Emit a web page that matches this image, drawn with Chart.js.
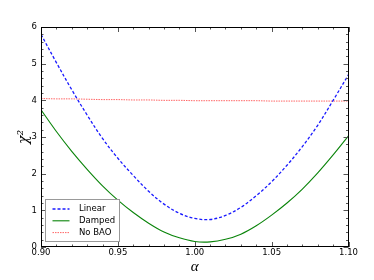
<!DOCTYPE html>
<html>
<head>
<meta charset="utf-8">
<script src="https://cdn.jsdelivr.net/npm/chart.js@4.4.1/dist/chart.umd.min.js"></script>
<style>
  html, body { margin: 0; padding: 0; background: #fff; }
</style>
</head>
<body>
<canvas id="chiChart" width="374" height="280"></canvas>
<script>
// Values
const alphaVals = [0.90, 0.91, 0.92, 0.93, 0.94, 0.95, 0.96, 0.97, 0.98, 0.99, 1.00,
                   1.01, 1.02, 1.03, 1.04, 1.05, 1.06, 1.07, 1.08, 1.09, 1.10];
const linearChi = [5.80, 5.03, 4.29, 3.60, 2.96, 2.42, 1.95, 1.52, 1.17, 0.92, 0.78,
                   0.75, 0.86, 1.08, 1.40, 1.78, 2.23, 2.74, 3.32, 4.00, 4.70];
const dampedChi = [3.74, 3.15, 2.61, 2.12, 1.67, 1.28, 0.94, 0.65, 0.41, 0.25, 0.15,
                   0.14, 0.21, 0.35, 0.58, 0.87, 1.20, 1.58, 2.02, 2.51, 3.03];
const noBaoChi  = [4.05, 4.04, 4.04, 4.03, 4.02, 4.02, 4.01, 4.01, 4.00, 4.00, 3.99,
                   3.99, 3.99, 3.99, 3.99, 3.98, 3.98, 3.98, 3.98, 3.98, 3.98];

const xMin = 0.90, xMax = 1.10, xMajor = 0.05, xMinor = 0.01;
const yMin = 0, yMax = 6, yMajor = 1, yMinor = 0.2;

function toPoints(ys) {
    return alphaVals.map((a, i) => ({ x: a, y: ys[i] }));
}

// Inward ticks on all four sides, matplotlib style
const frameTicks = {
    id: 'frameTicks',
    afterDraw(chart) {
        const { ctx, chartArea: a, scales: { x, y } } = chart;
        ctx.save();
        ctx.lineWidth = 1;
        ctx.strokeStyle = '#555';
        ctx.beginPath();
        const nx = Math.round((xMax - xMin) / xMinor);
        for (let i = 0; i <= nx; i++) {
            const px = Math.round(x.getPixelForValue(xMin + i * xMinor)) + 0.5;
            const len = (i % Math.round(xMajor / xMinor) === 0) ? 5 : 2.5;
            ctx.moveTo(px, a.bottom); ctx.lineTo(px, a.bottom - len);
            ctx.moveTo(px, a.top); ctx.lineTo(px, a.top + len);
        }
        const ny = Math.round((yMax - yMin) / yMinor);
        for (let i = 0; i <= ny; i++) {
            const py = Math.round(y.getPixelForValue(yMin + i * yMinor)) + 0.5;
            const len = (i % Math.round(yMajor / yMinor) === 0) ? 5 : 2.5;
            ctx.moveTo(a.left, py); ctx.lineTo(a.left + len, py);
            ctx.moveTo(a.right, py); ctx.lineTo(a.right - len, py);
        }
        ctx.stroke();

        // frame
        ctx.strokeStyle = '#000';
        ctx.strokeRect(Math.round(a.left) + 0.5, Math.round(a.top) + 0.5,
                       Math.round(a.right - a.left) - 1, Math.round(a.bottom - a.top) - 1);
        ctx.restore();
    }
};

// Legend box inside the lower-left corner of the plot
const innerLegend = {
    id: 'innerLegend',
    afterDraw(chart) {
        const { ctx, chartArea: a } = chart;
        const bx = a.left + 4.5, by = a.bottom - 47.5, bw = 74, bh = 42;
        ctx.save();
        ctx.fillStyle = '#fff';
        ctx.fillRect(bx, by, bw, bh);
        ctx.strokeStyle = '#999';
        ctx.lineWidth = 1;
        ctx.strokeRect(bx, by, bw, bh);
        ctx.font = '8.5px "DejaVu Sans"';
        ctx.textBaseline = 'middle';
        ctx.fillStyle = '#000';
        chart.data.datasets.forEach((ds, i) => {
            const ry = by + 9.5 + i * 11.8;
            ctx.strokeStyle = ds.borderColor;
            ctx.lineWidth = ds.borderWidth;
            ctx.setLineDash(ds.borderDash || []);
            ctx.beginPath();
            ctx.moveTo(bx + 7, ry); ctx.lineTo(bx + 24, ry);
            ctx.stroke();
            ctx.setLineDash([]);
            ctx.fillText(ds.label, bx + 33.5, ry);
        });
        ctx.restore();
    }
};

const ctx = document.getElementById('chiChart').getContext('2d');
const chiChart = new Chart(ctx, {
    type: 'line',
    data: {
        datasets: [
            {
                label: 'Linear',
                data: toPoints(linearChi),
                borderColor: '#1a1aff',
                borderWidth: 1.3,
                borderDash: [3, 2],
                pointRadius: 0,
                tension: 0.35,
                fill: false
            },
            {
                label: 'Damped',
                data: toPoints(dampedChi),
                borderColor: '#0a840a',
                borderWidth: 1.1,
                pointRadius: 0,
                tension: 0.35,
                fill: false
            },
            {
                label: 'No BAO',
                data: toPoints(noBaoChi),
                borderColor: 'rgba(255, 50, 50, 0.75)',
                borderWidth: 1,
                borderDash: [1.5, 1],
                pointRadius: 0,
                tension: 0.35,
                fill: false
            }
        ]
    },
    options: {
        responsive: false,
        animation: false,
        devicePixelRatio: 1,
        layout: { padding: { left: 0, top: 27, right: 25.5, bottom: 0 } },
        plugins: {
            legend: { display: false },
            tooltip: { enabled: false }
        },
        scales: {
            x: {
                type: 'linear',
                min: xMin,
                max: xMax,
                grid: { display: false, drawTicks: false },
                border: { display: false },
                ticks: {
                    stepSize: xMajor,
                    padding: 1,
                    color: '#000',
                    font: { family: 'DejaVu Sans', size: 8.5 },
                    maxRotation: 0,
                    callback: v => Number(v).toFixed(2)
                },
                title: {
                    display: true,
                    text: 'α',
                    color: '#000',
                    font: { family: 'Liberation Serif', style: 'italic', size: 15 },
                    padding: { top: 0, bottom: 4 }
                },
                afterFit: s => { s.height = 33; }
            },
            y: {
                min: yMin,
                max: yMax,
                grid: { display: false, drawTicks: false },
                border: { display: false },
                ticks: {
                    stepSize: yMajor,
                    padding: 4,
                    color: '#000',
                    font: { family: 'DejaVu Sans', size: 8.5 }
                },
                title: {
                    display: true,
                    text: 'χ²',
                    color: '#000',
                    font: { family: 'DejaVu Serif', style: 'italic', size: 14 },
                    padding: { top: 16, bottom: 0 }
                },
                afterFit: s => { s.width = 41; }
            }
        }
    },
    plugins: [frameTicks, innerLegend]
});
</script>
</body>
</html>
